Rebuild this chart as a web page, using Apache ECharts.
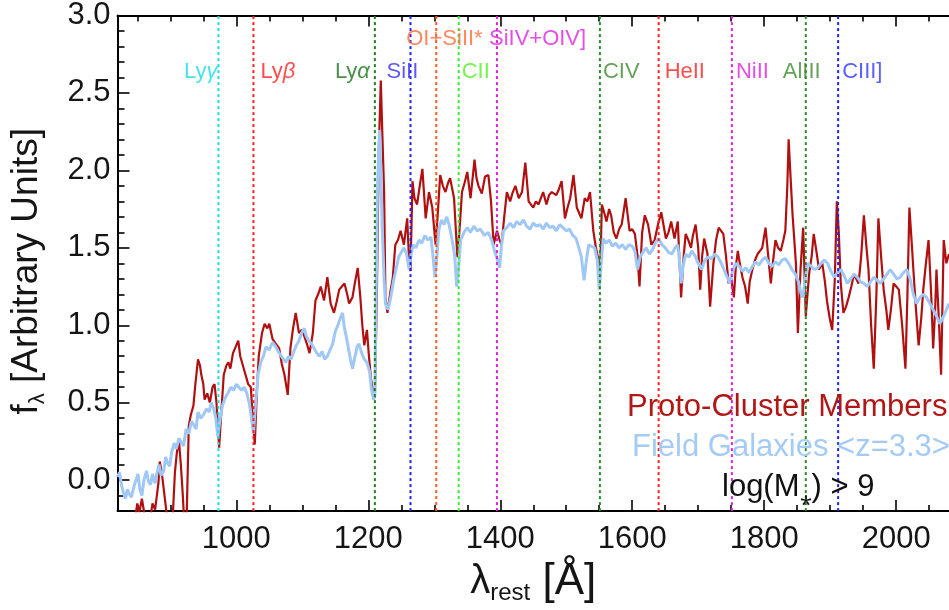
<!DOCTYPE html>
<html><head><meta charset="utf-8">
<script src="https://cdn.jsdelivr.net/npm/echarts@6/dist/echarts.min.js"></script>
<style>html,body{margin:0;padding:0;background:#fff}#c{width:949px;height:610px}</style>
</head><body><div id="c"></div>
<script>
// ---------- data ----------
const xMin = 820, xMax = 2080, yMin = -0.2, yMax = 3.0;
const xMajorTicks = [1000, 1200, 1400, 1600, 1800, 2000];
const xMinorTicks = [850, 900, 950, 1050, 1100, 1150, 1250, 1300, 1350, 1450, 1500, 1550, 1650, 1700, 1750, 1850, 1900, 1950, 2050];
const yMajorTicks = [0, 0.5, 1.0, 1.5, 2.0, 2.5, 3.0];
const yMinorTicks = [-0.1, 0.1, 0.2, 0.3, 0.4, 0.6, 0.7, 0.8, 0.9, 1.1, 1.2, 1.3, 1.4, 1.6, 1.7, 1.8, 1.9, 2.1, 2.2, 2.3, 2.4, 2.6, 2.7, 2.8, 2.9];

const lineNames = ['Lyγ', 'Lyβ', 'Lyα', 'SiII', 'OI+SiII*', 'CII', 'SiIV+OIV]', 'CIV', 'HeII', 'NiII', 'AlIII', 'CIII]'];
const lineWaves = [973, 1026, 1210, 1264, 1303, 1337, 1395, 1551, 1640, 1751, 1863, 1912];

const protoCluster = [
[820,-0.35],[835,-0.4],[845,-0.3],[850,-0.15],[853,-0.21],[857,-0.12],[862,-0.25],[868,-0.3],[873,-0.15],[877,-0.19],
[882,-0.02],[884,0.12],[887,0.05],[889,-0.02],[894,-0.2],[898,-0.4],[903,-0.3],[907,0.05],[910,0.18],[913,0.26],
[916,0.10],[919,-0.1],[922,-0.35],[925,-0.2],[928,0.35],[931,0.42],[935,0.48],[938,0.62],[942,0.78],[945,0.74],
[947,0.68],[950,0.62],[952,0.52],[956,0.56],[960,0.50],[964,0.60],[967,0.62],[970,0.50],[972,0.35],[974,0.21],
[977,0.42],[981,0.68],[985,0.74],[988,0.76],[991,0.72],[995,0.82],[999,0.86],[1003,0.90],[1006,0.80],[1010,0.74],
[1014,0.68],[1018,0.62],[1022,0.60],[1025,0.40],[1028,0.23],[1031,0.55],[1034,0.80],[1039,0.95],[1043,1.01],[1047,0.98],
[1050,1.01],[1055,0.91],[1060,0.88],[1065,0.85],[1069,0.75],[1073,0.68],[1078,0.55],[1082,0.85],[1086,0.98],[1090,1.08],
[1095,0.95],[1099,0.97],[1103,0.93],[1107,0.88],[1111,0.82],[1116,0.95],[1120,1.16],[1124,1.20],[1128,1.25],[1133,1.16],
[1138,1.31],[1143,1.14],[1148,1.08],[1152,1.15],[1156,1.23],[1160,1.25],[1164,1.27],[1168,1.20],[1171,1.14],[1176,1.18],
[1180,1.28],[1184,1.37],[1188,1.18],[1191,1.00],[1194,0.87],[1198,0.97],[1201,0.80],[1204,0.66],[1208,0.55],[1210,0.53],
[1213,1.20],[1216,2.14],[1219,2.58],[1221,2.28],[1224,1.86],[1226,1.18],[1229,1.08],[1234,1.23],[1237,1.30],[1241,1.52],
[1245,1.55],[1249,1.61],[1254,1.52],[1259,1.69],[1262,1.40],[1264,1.35],[1267,1.93],[1270,1.82],[1274,1.78],[1278,1.90],
[1282,2.01],[1287,1.69],[1292,1.86],[1297,1.76],[1302,1.52],[1305,1.70],[1309,1.97],[1313,1.90],[1317,1.86],[1321,1.92],
[1324,1.95],[1330,1.82],[1335,1.44],[1338,1.60],[1342,1.86],[1346,1.92],[1350,1.99],[1355,1.82],[1361,2.07],[1364,1.95],
[1367,1.90],[1372,1.85],[1377,1.96],[1382,1.97],[1386,1.80],[1390,1.52],[1395,1.61],[1399,1.55],[1402,1.52],[1406,1.70],
[1410,1.86],[1415,1.80],[1419,1.86],[1423,1.90],[1428,1.82],[1433,1.86],[1438,2.05],[1443,1.80],[1450,1.76],[1454,1.80],
[1458,1.78],[1465,1.86],[1470,1.78],[1474,1.84],[1478,1.86],[1485,1.84],[1489,1.88],[1493,1.93],[1498,1.69],[1502,1.76],
[1506,1.82],[1511,1.97],[1516,1.76],[1520,1.72],[1523,1.69],[1528,1.82],[1532,1.80],[1536,1.86],[1541,1.61],[1545,1.50],
[1548,1.44],[1551,1.27],[1554,1.78],[1558,1.72],[1561,1.67],[1565,1.75],[1568,1.71],[1572,1.60],[1576,1.56],[1580,1.62],
[1584,1.65],[1590,1.82],[1596,1.61],[1600,1.62],[1604,1.59],[1608,1.45],[1611,1.25],[1615,1.60],[1619,1.71],[1624,1.65],
[1629,1.52],[1634,1.55],[1639,1.65],[1644,1.73],[1651,1.56],[1655,1.60],[1659,1.67],[1664,1.56],[1669,1.67],[1674,1.18],
[1678,1.45],[1681,1.59],[1685,1.55],[1689,1.50],[1692,1.58],[1696,1.65],[1700,1.50],[1703,1.23],[1706,1.45],[1709,1.56],
[1714,1.46],[1718,1.12],[1723,1.40],[1727,1.55],[1731,1.63],[1738,1.59],[1742,1.45],[1746,1.27],[1750,1.30],[1754,1.18],
[1757,1.38],[1760,1.48],[1763,1.40],[1767,1.31],[1771,1.25],[1775,1.14],[1778,1.28],[1782,1.36],[1786,1.42],[1790,1.46],
[1797,1.50],[1802,1.63],[1806,1.45],[1810,1.27],[1813,1.40],[1817,1.55],[1821,1.50],[1825,1.48],[1829,1.55],[1832,1.61],
[1835,1.90],[1837,2.20],[1840,1.95],[1843,1.71],[1848,1.40],[1851,0.95],[1855,1.36],[1859,1.63],[1863,1.06],[1868,1.33],
[1872,1.45],[1875,1.59],[1879,1.48],[1883,1.36],[1888,1.40],[1892,1.28],[1895,1.16],[1899,1.05],[1903,0.97],[1907,1.30],
[1910,1.80],[1913,1.60],[1916,1.27],[1920,1.08],[1924,1.12],[1928,1.18],[1932,1.25],[1936,1.33],[1943,1.27],[1947,1.45],
[1951,1.71],[1955,1.50],[1958,1.36],[1962,1.00],[1966,0.72],[1970,1.20],[1973,1.69],[1977,1.45],[1981,1.23],[1985,1.10],
[1988,0.97],[1992,1.10],[1996,1.27],[2000,1.25],[2004,1.23],[2009,1.00],[2014,0.72],[2017,1.20],[2020,1.76],[2024,1.50],
[2026,1.36],[2030,1.10],[2034,0.87],[2038,1.05],[2041,1.23],[2045,1.40],[2049,1.55],[2053,1.20],[2056,0.85],[2059,1.10],
[2061,1.36],[2065,1.00],[2068,0.68],[2072,1.55],[2076,1.40],[2080,1.46]
];

const fieldGalaxies = [
[820,0.02],[823,0.05],[826,-0.03],[829,-0.08],[832,-0.12],[835,-0.06],[838,-0.09],[841,-0.11],[845,-0.04],[848,0.00],
[851,0.04],[854,-0.06],[857,-0.10],[860,0.00],[864,0.06],[867,-0.01],[870,-0.03],[873,0.04],[877,-0.02],[880,0.05],
[883,0.10],[886,0.03],[890,0.06],[893,0.15],[896,0.11],[899,0.09],[902,0.18],[906,0.24],[909,0.20],[913,0.27],
[917,0.24],[920,0.22],[924,0.33],[928,0.30],[932,0.38],[935,0.36],[939,0.33],[942,0.44],[946,0.40],[950,0.42],
[955,0.46],[959,0.44],[962,0.50],[966,0.46],[969,0.40],[972,0.28],[975,0.38],[979,0.48],[983,0.53],[987,0.56],
[992,0.60],[996,0.58],[1000,0.62],[1004,0.60],[1008,0.58],[1012,0.60],[1016,0.56],[1020,0.49],[1023,0.40],[1026,0.30],
[1029,0.48],[1033,0.68],[1037,0.76],[1041,0.80],[1045,0.86],[1050,0.84],[1055,0.89],[1060,0.86],[1065,0.82],[1070,0.79],
[1075,0.76],[1079,0.80],[1083,0.78],[1087,0.83],[1091,0.87],[1095,0.90],[1099,0.95],[1103,0.98],[1106,0.93],[1110,0.90],
[1114,0.88],[1118,0.85],[1122,0.82],[1126,0.80],[1130,0.83],[1134,0.78],[1138,0.80],[1142,0.84],[1146,0.88],[1150,0.96],
[1154,1.00],[1158,1.05],[1161,1.08],[1164,0.98],[1167,0.92],[1170,0.85],[1173,0.78],[1176,0.72],[1179,0.78],[1183,0.86],
[1186,0.88],[1190,0.82],[1194,0.78],[1198,0.76],[1202,0.70],[1205,0.58],[1208,0.52],[1210,0.55],[1212,1.20],[1214,1.90],
[1217,2.26],[1219,2.00],[1221,1.65],[1224,1.30],[1226,1.14],[1230,1.10],[1234,1.18],[1238,1.28],[1242,1.36],[1246,1.44],
[1250,1.47],[1254,1.50],[1258,1.46],[1262,1.36],[1265,1.46],[1268,1.52],[1272,1.50],[1277,1.55],[1281,1.53],[1286,1.58],
[1290,1.55],[1295,1.57],[1298,1.45],[1301,1.31],[1304,1.44],[1307,1.62],[1311,1.68],[1315,1.65],[1319,1.70],[1323,1.64],
[1327,1.55],[1331,1.45],[1334,1.25],[1337,1.38],[1340,1.55],[1345,1.60],[1350,1.63],[1355,1.60],[1360,1.64],[1365,1.61],
[1370,1.62],[1376,1.58],[1382,1.60],[1387,1.55],[1392,1.47],[1396,1.42],[1399,1.37],[1402,1.52],[1405,1.61],[1410,1.63],
[1415,1.66],[1420,1.63],[1425,1.67],[1430,1.65],[1435,1.68],[1440,1.64],[1445,1.62],[1450,1.66],[1455,1.64],[1460,1.65],
[1465,1.62],[1470,1.66],[1475,1.63],[1480,1.64],[1485,1.61],[1490,1.65],[1495,1.63],[1500,1.61],[1505,1.62],[1510,1.58],
[1515,1.56],[1519,1.50],[1523,1.44],[1527,1.29],[1530,1.40],[1534,1.52],[1538,1.51],[1543,1.50],[1547,1.42],[1550,1.23],
[1553,1.40],[1556,1.56],[1560,1.53],[1565,1.55],[1570,1.51],[1575,1.53],[1580,1.50],[1585,1.52],[1590,1.49],[1595,1.52],
[1600,1.51],[1604,1.48],[1608,1.36],[1612,1.44],[1616,1.47],[1621,1.50],[1626,1.46],[1631,1.49],[1636,1.54],[1640,1.56],
[1645,1.52],[1650,1.50],[1655,1.47],[1660,1.46],[1665,1.50],[1669,1.52],[1672,1.40],[1674,1.27],[1677,1.38],[1681,1.46],
[1686,1.44],[1690,1.48],[1695,1.45],[1700,1.40],[1705,1.36],[1710,1.42],[1715,1.44],[1720,1.43],[1725,1.46],[1730,1.44],
[1735,1.40],[1740,1.35],[1745,1.30],[1748,1.27],[1752,1.35],[1757,1.40],[1762,1.38],[1767,1.35],[1772,1.37],[1777,1.34],
[1782,1.38],[1787,1.41],[1792,1.39],[1797,1.42],[1802,1.44],[1807,1.40],[1812,1.38],[1817,1.41],[1822,1.39],[1827,1.42],
[1832,1.43],[1837,1.40],[1842,1.36],[1847,1.33],[1852,1.28],[1856,1.20],[1859,1.18],[1862,1.30],[1866,1.40],[1871,1.38],
[1876,1.36],[1881,1.37],[1886,1.40],[1891,1.42],[1896,1.40],[1901,1.35],[1906,1.31],[1911,1.34],[1916,1.36],[1921,1.32],
[1926,1.27],[1931,1.30],[1936,1.33],[1941,1.31],[1946,1.28],[1951,1.27],[1956,1.25],[1961,1.28],[1966,1.31],[1971,1.29],
[1976,1.27],[1981,1.30],[1986,1.33],[1991,1.36],[1996,1.33],[2001,1.30],[2006,1.31],[2011,1.34],[2016,1.36],[2021,1.30],
[2026,1.20],[2031,1.14],[2036,1.18],[2041,1.20],[2046,1.18],[2051,1.14],[2056,1.10],[2061,1.06],[2066,1.01],[2071,1.05],
[2076,1.10],[2080,1.14]
];

// ---------- styles ----------
const FONT = '"Liberation Sans", Arial, Helvetica, sans-serif';
const TXT = '#151515';
const lineColors  = ['#1fdde6', '#ff2020', '#1f7f1f', '#2020f0', '#ff5a1a', '#33ee33', '#dd22dd', '#2a8a2a', '#ff2020', '#dd22dd', '#2a8a2a', '#2020f0'];
const labelColors = ['#18dce8', '#ff2020', '#1a741a', '#3a30f5', '#ff6a3a', '#55ee22', '#dd22dd', '#3f8a30', '#ff2020', '#dd22dd', '#3f8a30', '#3038ff'];
// label layout: [pixel offset from the line, text alignment, row]
const labelLayout = [[-1,'right',0],[7,'left',0],[-5,'right',0],[-24,'left',0],[-30,'left',1],[3,'left',0],[-8,'left',1],[3,'left',0],[6,'left',0],[4,'left',0],[-23,'left',0],[4,'left',0]];
const rowY = [2.638, 2.85];

function greekRich(name) {
  const m = name.match(/^Ly(.)$/);
  if (m) return '{n|Ly}{g|' + m[1] + '}';
  return '{n|' + name + '}';
}

const tickStyle = { color: '#000', width: 1.6 };
function xAxisDef(pos, ticks, len, withLine, withLabel) {
  const a = {
    type: 'value', min: xMin, max: xMax, position: pos,
    axisLine: { show: withLine, onZero: false, lineStyle: { color: '#000', width: 2 } },
    axisTick: { show: true, inside: true, length: len, customValues: ticks, lineStyle: tickStyle },
    axisLabel: { show: false },
    splitLine: { show: false }
  };
  if (withLabel) {
    a.axisLabel = { show: true, customValues: ticks, fontSize: 31, fontFamily: FONT, color: TXT, margin: 13,
      formatter: v => String(v) };
    a.name = '{m|λ}{s|rest}{b| [Å]}';
    a.nameLocation = 'middle';
    a.nameGap = 33;
    a.nameTextStyle = {
      rich: {
        m: { fontSize: 40, fontFamily: FONT, color: TXT, lineHeight: 46 },
        s: { fontSize: 24, fontFamily: FONT, color: TXT, lineHeight: 24, verticalAlign: 'bottom' },
        b: { fontSize: 44, fontFamily: FONT, color: TXT, lineHeight: 46 }
      }
    };
  }
  return a;
}
function yAxisDef(ticks, len, withLine, withLabel) {
  const a = {
    type: 'value', min: yMin, max: yMax, position: 'left',
    axisLine: { show: withLine, onZero: false, lineStyle: { color: '#000', width: 2 } },
    axisTick: { show: true, inside: true, length: len, customValues: ticks, lineStyle: tickStyle },
    axisLabel: { show: false },
    splitLine: { show: false }
  };
  if (withLabel) {
    a.axisLabel = { show: true, customValues: ticks, fontSize: 31, fontFamily: FONT, color: TXT, margin: 7,
      formatter: v => v.toFixed(1) };
    a.name = '{m|f}{s|λ}{m| [Arbitrary Units]}';
    a.nameLocation = 'middle';
    a.nameGap = 69;
    a.nameTextStyle = {
      padding: [0, 16, 0, 0],
      rich: {
        m: { fontSize: 37, fontFamily: FONT, color: TXT, lineHeight: 44 },
        s: { fontSize: 22, fontFamily: FONT, color: TXT, lineHeight: 22, verticalAlign: 'bottom' }
      }
    };
  }
  return a;
}

const series = [
  { type: 'line', name: 'Proto-Cluster Members', data: protoCluster, showSymbol: false, clip: true, z: 3,
    lineStyle: { color: '#b01010', width: 2.2 }, xAxisIndex: 0, yAxisIndex: 0 },
  { type: 'line', name: 'Field Galaxies <z=3.3>', data: fieldGalaxies, showSymbol: false, clip: true, z: 4,
    lineStyle: { color: '#9fc8f6', width: 3 }, xAxisIndex: 0, yAxisIndex: 0 }
];
lineWaves.forEach((w, i) => {
  series.push({
    type: 'line', data: [[w, yMin], [w, yMax]], showSymbol: false, z: 5, silent: true,
    xAxisIndex: 0, yAxisIndex: 0,
    lineStyle: { color: lineColors[i], width: 2, type: [3, 3] }
  });
});
series.push({
  type: 'scatter', symbolSize: 0, z: 6, silent: true, xAxisIndex: 0, yAxisIndex: 0,
  data: lineWaves.map((w, i) => ({
    value: [w, rowY[labelLayout[i][2]]],
    label: {
      show: true, position: 'inside', offset: [labelLayout[i][0], 0],
      align: labelLayout[i][1], verticalAlign: 'middle',
      formatter: greekRich(lineNames[i]),
      rich: {
        n: { fontSize: 22, fontFamily: FONT, color: labelColors[i] },
        g: { fontSize: 22, fontFamily: FONT, fontStyle: 'italic', color: labelColors[i] }
      }
    }
  }))
});

const chart = echarts.init(document.getElementById('c'));
chart.setOption({
  animation: false,
  backgroundColor: '#fff',
  grid: { left: 114, right: 0, top: 14, bottom: 92, containLabel: false },
  xAxis: [
    xAxisDef('bottom', xMinorTicks, 6, true, false),
    xAxisDef('bottom', xMajorTicks, 11, false, true),
    xAxisDef('top', xMinorTicks, 6, true, false),
    xAxisDef('top', xMajorTicks, 11, false, false)
  ],
  yAxis: [
    yAxisDef(yMinorTicks, 7, true, false),
    yAxisDef(yMajorTicks, 12, false, true)
  ],
  series: series,
  graphic: [
    { type: 'text', x: 627, y: 407, z: 10, style: { text: 'Proto-Cluster Members', fontSize: 31, fontFamily: FONT, fill: '#b01818', verticalAlign: 'middle' } },
    { type: 'text', x: 632, y: 447, z: 10, style: { text: 'Field Galaxies <z=3.3>', fontSize: 31, fontFamily: FONT, fill: '#a4cbf6', verticalAlign: 'middle' } },
    { type: 'text', x: 722, y: 487, z: 10, style: { text: '{m|log(M}{s|⁎}{m|) > 9}', verticalAlign: 'middle',
        rich: { m: { fontSize: 31, fontFamily: FONT, fill: '#111', lineHeight: 38 },
                s: { fontSize: 22, fontFamily: FONT, fill: '#111', lineHeight: 22, verticalAlign: 'bottom' } } } }
  ]
});
</script>
</body></html>
